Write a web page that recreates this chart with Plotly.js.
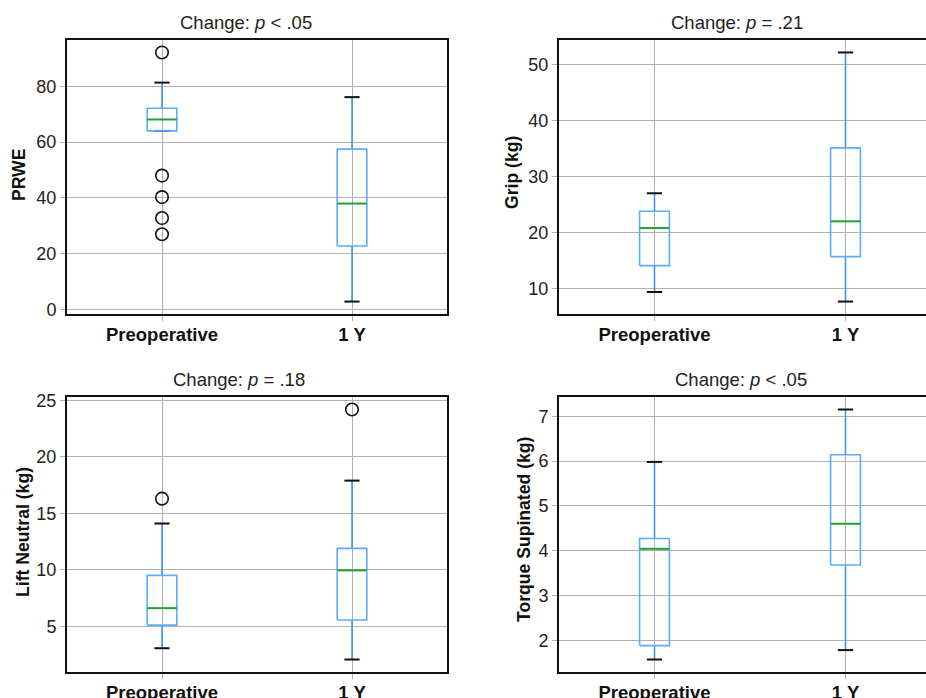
<!DOCTYPE html>
<html>
<head>
<meta charset="utf-8">
<script src="https://cdn.plot.ly/plotly-3.0.1.min.js"></script>
<style>
  html, body { margin: 0; padding: 0; overflow: hidden; background: #fff; }
  #chart { width: 950px; height: 712px; }
</style>
</head>
<body>
<div id="chart"></div>
<script>
// ---- Data ----
const categories = ["Preoperative", "1 Y"];

const panelTitles = [
  "Change: <i>p</i> &lt; .05",
  "Change: <i>p</i> = .21",
  "Change: <i>p</i> = .18",
  "Change: <i>p</i> &lt; .05"
];
const yTitles = ["PRWE", "Grip (kg)", "Lift Neutral (kg)", "Torque Supinated (kg)"];

// PRWE
const prweLower  = [64.0, 2.9];
const prweQ1     = [64.0, 22.8];
const prweMedian = [68.1, 38.0];
const prweQ3     = [72.1, 57.5];
const prweUpper  = [81.3, 76.1];
const prweOutliers = [[92.1, 48.0, 40.3, 32.8, 27.0], []];

// Grip (kg)
const gripLower  = [9.4, 7.7];
const gripQ1     = [14.1, 15.7];
const gripMedian = [20.8, 22.0];
const gripQ3     = [23.8, 35.1];
const gripUpper  = [27.0, 52.1];
const gripOutliers = [[], []];

// Lift Neutral (kg)
const liftLower  = [3.05, 2.05];
const liftQ1     = [5.1, 5.55];
const liftMedian = [6.6, 9.95];
const liftQ3     = [9.5, 11.9];
const liftUpper  = [14.1, 17.9];
const liftOutliers = [[16.3], [24.2]];

// Torque Supinated (kg)
const torqueLower  = [1.57, 1.78];
const torqueQ1     = [1.88, 3.68];
const torqueMedian = [4.04, 4.60];
const torqueQ3     = [4.27, 6.14];
const torqueUpper  = [5.98, 7.15];
const torqueOutliers = [[], []];

// Y tick steps
const yTickSteps = [20, 10, 5, 1];

// ---- Build ----
const panels = [
  {lower: prweLower, q1: prweQ1, med: prweMedian, q3: prweQ3, upper: prweUpper, out: prweOutliers},
  {lower: gripLower, q1: gripQ1, med: gripMedian, q3: gripQ3, upper: gripUpper, out: gripOutliers},
  {lower: liftLower, q1: liftQ1, med: liftMedian, q3: liftQ3, upper: liftUpper, out: liftOutliers},
  {lower: torqueLower, q1: torqueQ1, med: torqueMedian, q3: torqueQ3, upper: torqueUpper, out: torqueOutliers}
];

const W = 950, H = 712;
// panel pixel boxes [left, right, top, bottom]
const boxesPx = [
  [67, 447, 40, 314],
  [559, 941, 40, 314],
  [67, 447, 397, 672],
  [559, 941, 397, 672]
];
const titlePos = [[246, 22], [737, 22], [239, 379], [741, 379]];
const yTitlePos = [[19, 175], [512, 173], [23, 532], [524, 530]];

const BOX_HW = 0.078, CAP_HW = 0.04;
const FONT = "Liberation Sans, Arial, Helvetica, sans-serif";
const positions = categories.map((c, i) => i + 1);

const traces = [];
const layout = {
  width: W, height: H,
  margin: {l: 0, r: 0, t: 0, b: 0},
  paper_bgcolor: "#fff", plot_bgcolor: "#fff",
  showlegend: false, hovermode: false,
  font: {family: FONT, size: 18, color: "#222"},
  annotations: []
};

panels.forEach((p, k) => {
  const xa = k === 0 ? "x" : "x" + (k + 1);
  const ya = k === 0 ? "y" : "y" + (k + 1);
  const wx = [], wy = [], cx = [], cy = [], bx = [], by = [], mx = [], my = [], ox = [], oy = [];
  positions.forEach((pos, i) => {
    wx.push(pos, pos, null, pos, pos, null);
    wy.push(p.q1[i], p.lower[i], null, p.q3[i], p.upper[i], null);
    cx.push(pos - CAP_HW, pos + CAP_HW, null, pos - CAP_HW, pos + CAP_HW, null);
    cy.push(p.lower[i], p.lower[i], null, p.upper[i], p.upper[i], null);
    bx.push(pos - BOX_HW, pos + BOX_HW, pos + BOX_HW, pos - BOX_HW, pos - BOX_HW, null);
    by.push(p.q1[i], p.q1[i], p.q3[i], p.q3[i], p.q1[i], null);
    mx.push(pos - BOX_HW, pos + BOX_HW, null);
    my.push(p.med[i], p.med[i], null);
    p.out[i].forEach(v => { ox.push(pos); oy.push(v); });
  });
  const common = {xaxis: xa, yaxis: ya, mode: "lines", type: "scatter", hoverinfo: "skip"};
  traces.push(Object.assign({x: wx, y: wy, line: {color: "#3a90ea", width: 1.5}}, common));
  traces.push(Object.assign({x: cx, y: cy, line: {color: "#111", width: 2}}, common));
  traces.push(Object.assign({x: bx, y: by, line: {color: "#5aacff", width: 1.6}}, common));
  traces.push(Object.assign({x: mx, y: my, line: {color: "#22a032", width: 2}}, common));
  traces.push({xaxis: xa, yaxis: ya, type: "scatter", mode: "markers", x: ox, y: oy, hoverinfo: "skip",
    marker: {symbol: "circle-open", size: 12.5, color: "#111", line: {width: 1.6, color: "#111"}}});

  // y range: data extent with 5% margin (matplotlib-like autoscale)
  const all = [].concat(p.lower, p.upper, ...p.out);
  const lo = Math.min(...all), hi = Math.max(...all), pad = (hi - lo) * 0.05;

  const b = boxesPx[k];
  const axCommon = {
    showline: true, linecolor: "#111", linewidth: 2, mirror: true,
    showgrid: true, gridcolor: "#b0b0b0", gridwidth: 1, zeroline: false,
    ticks: "outside", ticklen: 5, tickcolor: "#b0b0b0", tickwidth: 1,
    fixedrange: true
  };
  layout["xaxis" + (k === 0 ? "" : k + 1)] = Object.assign({}, axCommon, {
    domain: [b[0] / W, b[1] / W],
    anchor: ya,
    range: [0.5, 2.5],
    tickmode: "array", tickvals: positions,
    ticktext: categories.map(c => "<b>" + c + "</b>"),
    tickfont: {family: FONT, size: 18.5, color: "#111"},
    ticklabelstandoff: -2
  });
  layout["yaxis" + (k === 0 ? "" : k + 1)] = Object.assign({}, axCommon, {
    domain: [(H - b[3]) / H, (H - b[2]) / H],
    anchor: xa,
    range: [lo - pad, hi + pad],
    tick0: 0, dtick: yTickSteps[k],
    tickfont: {family: FONT, size: 18, color: "#222"}
  });

  layout.annotations.push({
    xref: "paper", yref: "paper", x: titlePos[k][0] / W, y: 1 - titlePos[k][1] / H,
    xanchor: "center", yanchor: "middle", showarrow: false,
    text: panelTitles[k], font: {family: FONT, size: 18.5, color: "#222"}
  });
  layout.annotations.push({
    xref: "paper", yref: "paper", x: yTitlePos[k][0] / W, y: 1 - yTitlePos[k][1] / H,
    xanchor: "center", yanchor: "middle", showarrow: false, textangle: -90,
    text: "<b>" + yTitles[k] + "</b>", font: {family: FONT, size: 17.6, color: "#111"}
  });
});

Plotly.newPlot("chart", traces, layout, {displayModeBar: false, staticPlot: true});
</script>
</body>
</html>
